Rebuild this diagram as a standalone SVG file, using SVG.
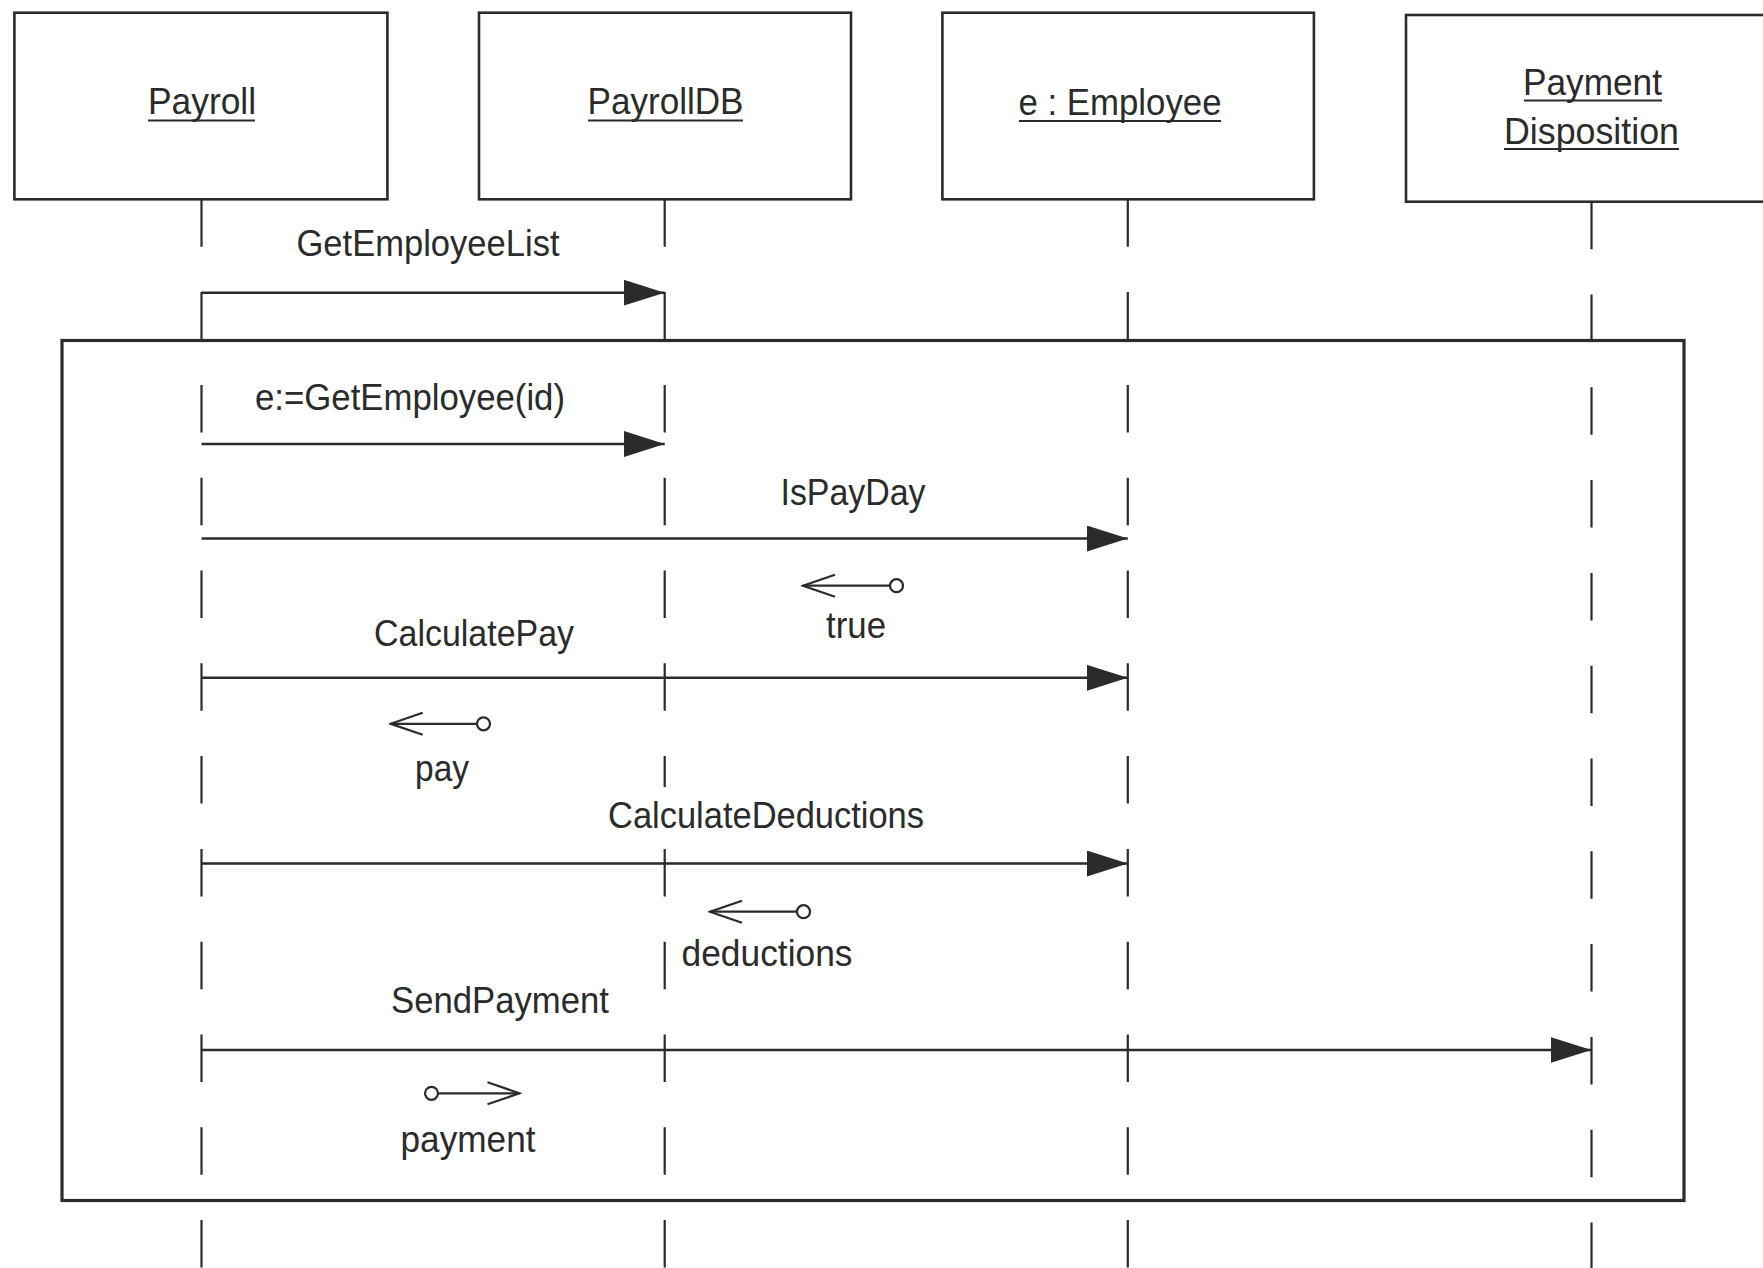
<svg xmlns="http://www.w3.org/2000/svg" width="1763" height="1268" viewBox="0 0 1763 1268">
  <style>
    .box { fill: #ffffff; stroke: #2b2b2b; stroke-width: 2.6; }
    .frame { fill: none; stroke: #2b2b2b; stroke-width: 3.2; }
    .life { stroke: #2b2b2b; stroke-width: 2.2; stroke-dasharray: 47.5 45.3; fill: none; }
    .msg { stroke: #2b2b2b; stroke-width: 2.6; fill: none; }
    .ret { stroke: #2b2b2b; stroke-width: 2.2; fill: none; }
    .uline { stroke: #2b2b2b; stroke-width: 2.2; }
    text { font-family: "Liberation Sans", Arial, Helvetica, sans-serif; font-size: 37px; fill: #2b2b2b; text-anchor: middle; }
  </style>
  <defs>
    <!-- filled head for synchronous messages -->
    <marker id="solidHead" markerUnits="userSpaceOnUse" viewBox="0 0 41 26" refX="41" refY="13" markerWidth="41" markerHeight="26" orient="auto">
      <path d="M0,0 L41,13 L0,26 Z" fill="#2b2b2b"/>
    </marker>
    <!-- open head for data-flow tokens -->
    <marker id="openHead" markerUnits="userSpaceOnUse" viewBox="-2 -2 36 26" refX="32" refY="11" markerWidth="36" markerHeight="26" orient="auto-start-reverse">
      <path d="M0,0 L32,11 L0,22" fill="none" stroke="#2b2b2b" stroke-width="2.2"/>
    </marker>
    <!-- small circle at the tail of a data-flow token -->
    <marker id="dot" markerUnits="userSpaceOnUse" viewBox="0 0 18 18" refX="2.5" refY="9" markerWidth="18" markerHeight="18" orient="auto-start-reverse">
      <circle cx="9" cy="9" r="6.5" fill="#ffffff" stroke="#2b2b2b" stroke-width="2.2"/>
    </marker>
  </defs>

  <rect width="1763" height="1268" fill="#ffffff"/>

  <!-- lifelines -->
  <g id="lifelines">
    <line class="life" x1="201.5" y1="199.3" x2="201.5" y2="1268"/>
    <line class="life" x1="664.7" y1="199.3" x2="664.7" y2="1268"/>
    <line class="life" x1="1127.8" y1="199.3" x2="1127.8" y2="1268"/>
    <line class="life" x1="1591.5" y1="201.7" x2="1591.5" y2="1268"/>
  </g>

  <!-- loop frame -->
  <rect id="loop-frame" class="frame" x="62" y="340.5" width="1622" height="860"/>

  <!-- object heads -->
  <g id="node-payroll">
    <rect class="box" x="14.4" y="12.7" width="373" height="186.6"/>
    <text x="202" y="114" textLength="108" lengthAdjust="spacingAndGlyphs">Payroll</text>
    <line class="uline" x1="148" y1="120.5" x2="255" y2="120.5"/>
  </g>
  <g id="node-payrolldb">
    <rect class="box" x="479" y="12.7" width="372" height="186.6"/>
    <text x="665.5" y="114" textLength="156" lengthAdjust="spacingAndGlyphs">PayrollDB</text>
    <line class="uline" x1="588" y1="120.5" x2="743" y2="120.5"/>
  </g>
  <g id="node-employee">
    <rect class="box" x="942.4" y="12.7" width="371.5" height="186.6"/>
    <text x="1120" y="115" textLength="203" lengthAdjust="spacingAndGlyphs">e : Employee</text>
    <line class="uline" x1="1019" y1="121" x2="1221" y2="121"/>
  </g>
  <g id="node-payment-disposition">
    <rect class="box" x="1406" y="15" width="380" height="186.7"/>
    <text x="1592.5" y="95" textLength="139" lengthAdjust="spacingAndGlyphs">Payment</text>
    <line class="uline" x1="1524" y1="100.5" x2="1662" y2="100.5"/>
    <text x="1591.5" y="144" textLength="175" lengthAdjust="spacingAndGlyphs">Disposition</text>
    <line class="uline" x1="1504" y1="149" x2="1679" y2="149"/>
  </g>

  <!-- messages and data tokens -->
  <g id="connectors">
    <line class="msg" x1="201.5" y1="292.7" x2="664.7" y2="292.7" marker-end="url(#solidHead)"/>
    <line class="msg" x1="201.5" y1="444" x2="664.7" y2="444" marker-end="url(#solidHead)"/>
    <line class="msg" x1="201.5" y1="538.5" x2="1127.8" y2="538.5" marker-end="url(#solidHead)"/>
    <line class="msg" x1="201.5" y1="677.8" x2="1127.8" y2="677.8" marker-end="url(#solidHead)"/>
    <line class="msg" x1="201.5" y1="863.5" x2="1127.8" y2="863.5" marker-end="url(#solidHead)"/>
    <line class="msg" x1="201.5" y1="1050" x2="1591.5" y2="1050" marker-end="url(#solidHead)"/>

    <line class="ret" x1="803" y1="585.7" x2="890" y2="585.7" marker-start="url(#openHead)" marker-end="url(#dot)"/>
    <line class="ret" x1="390.7" y1="723.8" x2="477" y2="723.8" marker-start="url(#openHead)" marker-end="url(#dot)"/>
    <line class="ret" x1="710" y1="911.7" x2="797" y2="911.7" marker-start="url(#openHead)" marker-end="url(#dot)"/>
    <line class="ret" x1="438" y1="1093.3" x2="519.5" y2="1093.3" marker-start="url(#dot)" marker-end="url(#openHead)"/>
  </g>

  <!-- message labels -->
  <g id="labels">
    <text x="428" y="256" textLength="263" lengthAdjust="spacingAndGlyphs">GetEmployeeList</text>
    <text x="410" y="410" textLength="310" lengthAdjust="spacingAndGlyphs">e:=GetEmployee(id)</text>
    <text x="853" y="505" textLength="145" lengthAdjust="spacingAndGlyphs">IsPayDay</text>
    <text x="856" y="638" textLength="60" lengthAdjust="spacingAndGlyphs">true</text>
    <text x="474" y="646" textLength="200" lengthAdjust="spacingAndGlyphs">CalculatePay</text>
    <text x="442" y="781" textLength="54" lengthAdjust="spacingAndGlyphs">pay</text>
    <rect x="600" y="787" width="332" height="52" fill="#ffffff"/>
    <text x="766" y="828" textLength="316" lengthAdjust="spacingAndGlyphs">CalculateDeductions</text>
    <text x="767" y="966" textLength="171" lengthAdjust="spacingAndGlyphs">deductions</text>
    <text x="500" y="1013" textLength="218" lengthAdjust="spacingAndGlyphs">SendPayment</text>
    <text x="468" y="1152" textLength="135" lengthAdjust="spacingAndGlyphs">payment</text>
  </g>
</svg>
